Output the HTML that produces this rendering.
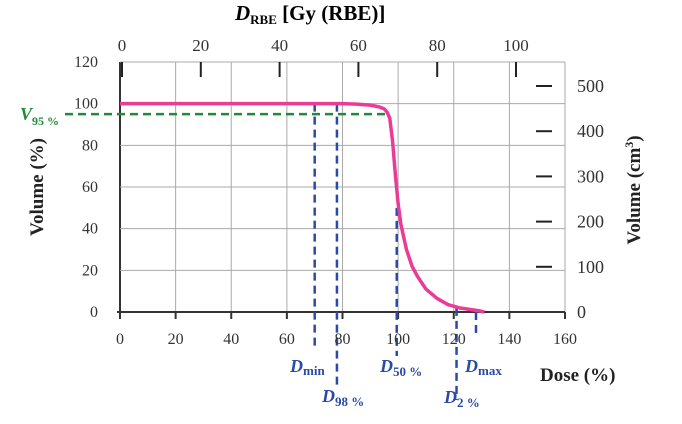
<!DOCTYPE html>
<html><head><meta charset="utf-8"><style>
body{margin:0;background:#fff}
svg text{font-family:"Liberation Serif",serif}
</style></head><body>
<svg id="c" width="682" height="419" viewBox="0 0 682 419">
<g id="grid"></g>
<g id="marks"></g>
<g id="labels"></g>
</svg>
<script>
const xTicks=[0,20,40,60,80,100,120,140,160];
const yTicks=[0,20,40,60,80,100,120];
const gyTicks=[0,20,40,60,80,100];
const cm3Ticks=[0,100,200,300,400,500];
const doseVals=[0,40,80,85,90,93,95,96,97,98,99,100,101,102,103,105,107,110,114,118,122,126,129,131];
const volVals=[100,100,100,99.8,99.3,98.5,97.5,96,93,82,66,52,42,36,30,22,17,11,6.5,3.5,2,1.2,0.6,0];
const markerNames=['D-min','D-98','D-50','D-2','D-max'];
const markerDose=[70,78,99.5,121,128];
const markerVol=[100,100,50,2,0];
const v95=95;
const NS='http://www.w3.org/2000/svg';
const X0=120,X1=565,Y0=312,Y1=62;
const sx=d=>X0+(X1-X0)*d/160;
const sy=v=>Y0-(Y0-Y1)*v/120;
const sg=g=>122+g*3.94;
const sc=c=>312-c*0.452;
function mk(p,t,a){const e=document.createElementNS(NS,t);for(const k in a)e.setAttribute(k,a[k]);document.getElementById(p).appendChild(e);return e;}
xTicks.forEach(d=>{
 const l=mk('grid','line',{x1:sx(d),x2:sx(d),y1:Y1,y2:Y0+6,stroke:d===0?'#333':'#aaa','stroke-width':d===0?2:1});
 
 const tk=mk('grid','line',{x1:sx(d),x2:sx(d),y1:Y0,y2:Y0+7,stroke:'#333','stroke-width':2});
 
 const t=mk('labels','text',{x:sx(d),y:Y0+32,'text-anchor':'middle','font-size':16,fill:'#333'});t.textContent=d;
 
});
yTicks.forEach(v=>{
 const l=mk('grid','line',{x1:v===0?X0-3:X0,x2:X1,y1:sy(v),y2:sy(v),stroke:v===0?'#333':'#aaa','stroke-width':v===0?2:1});
 
 const t=mk('labels','text',{x:X0-22,y:sy(v)+5,'text-anchor':'end','font-size':16,fill:'#333'});t.textContent=v;
 
});
gyTicks.forEach(g=>{
 const l=mk('grid','line',{x1:sg(g),x2:sg(g),y1:Y1,y2:Y1+15,stroke:'#222','stroke-width':2});
 
 const t=mk('labels','text',{x:sg(g),y:51,'text-anchor':'middle','font-size':17,fill:'#333'});t.textContent=g;
 
});
cm3Ticks.forEach(c=>{
 if(c>0){const l=mk('grid','line',{x1:536,x2:552,y1:sc(c),y2:sc(c),stroke:'#222','stroke-width':2});
 }
 const t=mk('labels','text',{x:577,y:sc(c)+6,'font-size':18,fill:'#333'});t.textContent=c;
 
});
const g=mk('marks','line',{x1:65,x2:sx(97),y1:sy(v95),y2:sy(v95),stroke:'#1e8a3a','stroke-width':2.5,'stroke-dasharray':'8,5'});

const ends=[350,388,356,400,338];
markerDose.forEach((d,i)=>{
 const l=mk('marks','line',{x1:sx(d),x2:sx(d),y1:sy(markerVol[i]),y2:ends[i],stroke:'#2b4aa8','stroke-width':2.5,'stroke-dasharray':'8,5'});
 
});
const p=mk('marks','path',{d:doseVals.map((d,i)=>(i?'L':'M')+sx(d)+','+sy(volVals[i])).join(''),fill:'none',stroke:'#ec3a97','stroke-width':3.5,'stroke-linejoin':'round'});

</script>
<svg width="682" height="419" style="position:absolute;left:0;top:0">
<g font-family="Liberation Serif,serif" font-weight="bold">
<text x="235" y="20" font-size="21"><tspan font-style="italic">D</tspan><tspan font-size="13" dy="4">RBE</tspan><tspan dy="-4"> [Gy (RBE)]</tspan></text>
<text x="540" y="381" font-size="19" fill="#222">Dose (%)</text>
<text transform="translate(43,187) rotate(-90)" text-anchor="middle" font-size="19" fill="#222">Volume (%)</text>
<text transform="translate(640,190) rotate(-90)" text-anchor="middle" font-size="19" fill="#222">Volume (cm<tspan font-size="12" dy="-7">3</tspan><tspan dy="7">)</tspan></text>
<g fill="#1e8a3a"><text x="20" y="120" font-size="18"><tspan font-style="italic">V</tspan><tspan font-size="12" dy="5">95 %</tspan></text></g>
<g fill="#2b4aa8" font-size="18">
<text x="290" y="372"><tspan font-style="italic">D</tspan><tspan font-size="13" dy="3">min</tspan></text>
<text x="322" y="402"><tspan font-style="italic">D</tspan><tspan font-size="13" dy="4">98 %</tspan></text>
<text x="380" y="372"><tspan font-style="italic">D</tspan><tspan font-size="13" dy="4">50 %</tspan></text>
<text x="444" y="403"><tspan font-style="italic">D</tspan><tspan font-size="13" dy="4">2 %</tspan></text>
<text x="465" y="372"><tspan font-style="italic">D</tspan><tspan font-size="13" dy="3">max</tspan></text>
</g></g></svg>
</body></html>
